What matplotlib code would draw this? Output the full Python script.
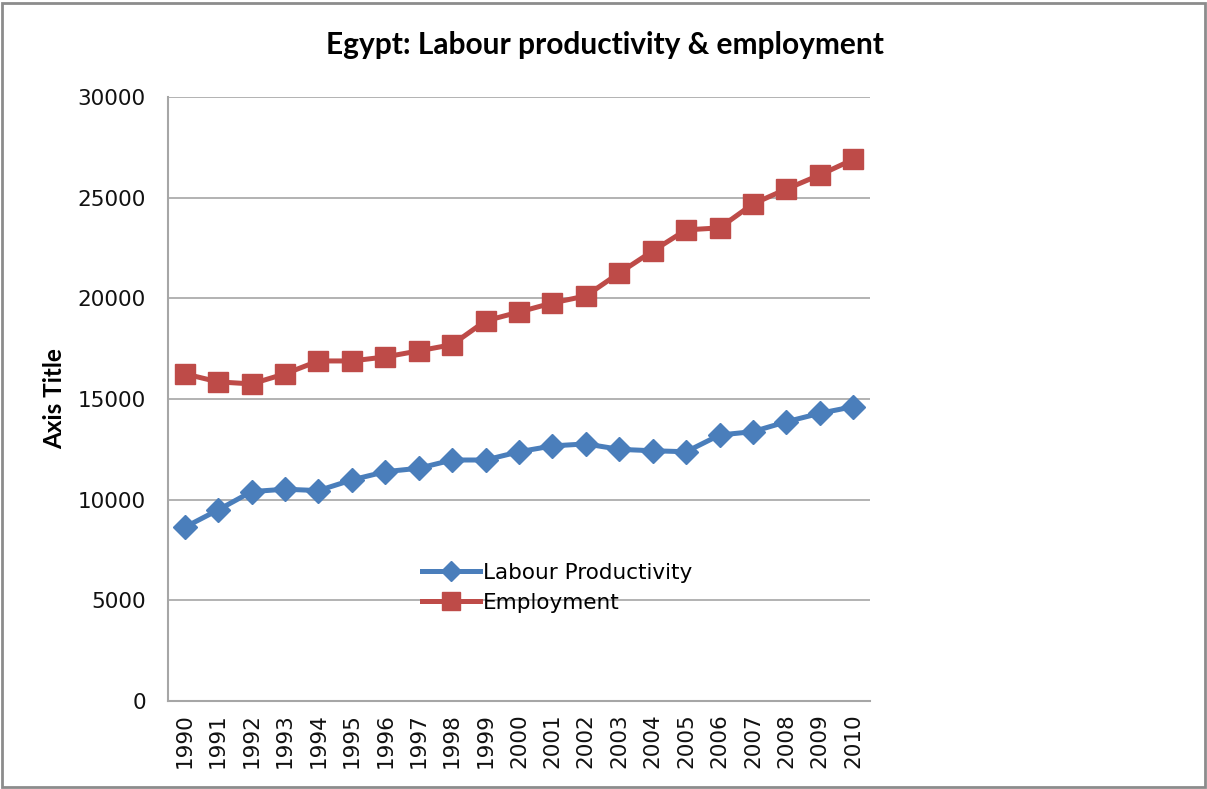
import matplotlib
matplotlib.use('Agg')

import matplotlib.pyplot as plt
from matplotlib.patches import Rectangle
import numpy as np

# Egypt series, 1990-2010
years = [str(y) for y in range(1990, 2011)]
labour_productivity = [8630, 9490, 10400, 10520, 10450, 10980, 11390, 11560,
                       11970, 11970, 12380, 12670, 12770, 12500, 12430, 12380,
                       13210, 13380, 13870, 14290, 14620]
employment = [16250, 15850, 15750, 16250, 16890, 16890, 17090, 17390, 17700,
              18880, 19320, 19770, 20120, 21260, 22350, 23400, 23500, 24690,
              25430, 26130, 26900]
y_ticks = [0, 5000, 10000, 15000, 20000, 25000, 30000]

blue = '#4a7ebb'
red = '#be4b48'
grid_grey = '#a6a6a6'

fig = plt.figure(figsize=(12.07, 7.89), dpi=100)
ax = fig.add_axes([168/1207, 1 - 701/789, 702/1207, 604/789])

x = np.arange(len(years))
ax.plot(x, labour_productivity, color=blue, lw=3.6, marker='D',
        markersize=12, label='Labour Productivity', zorder=3)
ax.plot(x, employment, color=red, lw=3.6, marker='s',
        markersize=15, label='Employment', zorder=3)

ax.set_xlim(-0.5, len(years) - 0.5)
ax.set_ylim(0, 30000)
ax.set_yticks(y_ticks)
ax.set_xticks(x)
ax.set_xticklabels(years, rotation=90)
ax.tick_params(axis='both', length=0, labelsize=15.5, colors='#111111')
ax.tick_params(axis='x', pad=9)
ax.tick_params(axis='y', pad=16)
ax.yaxis.grid(True, color=grid_grey, lw=1.2)
ax.set_axisbelow(True)

for side in ['top', 'right']:
    ax.spines[side].set_visible(False)
for side in ['left', 'bottom']:
    ax.spines[side].set_color(grid_grey)
    ax.spines[side].set_linewidth(1.5)

ax.set_ylabel('Axis Title', family='Lato', fontweight='bold', fontsize=17.5,
              labelpad=8)
fig.text(605/1207, 1 - 45/789, 'Egypt: Labour productivity & employment',
         family='Lato', fontweight='bold', fontsize=21.5, ha='center',
         va='center')

leg = ax.legend(loc='upper left', bbox_to_anchor=(0.35, 0.243), frameon=False,
                fontsize=15.5, handlelength=2.7, handletextpad=0.1,
                labelspacing=0.45, borderaxespad=0, markerscale=0.85)

# chart frame
fig.patches.append(Rectangle((0.002, 0.003), 0.996, 0.993,
                             transform=fig.transFigure, fill=False,
                             edgecolor='#8c8c8c', lw=2.0))

fig.savefig('out.png', dpi=100)
